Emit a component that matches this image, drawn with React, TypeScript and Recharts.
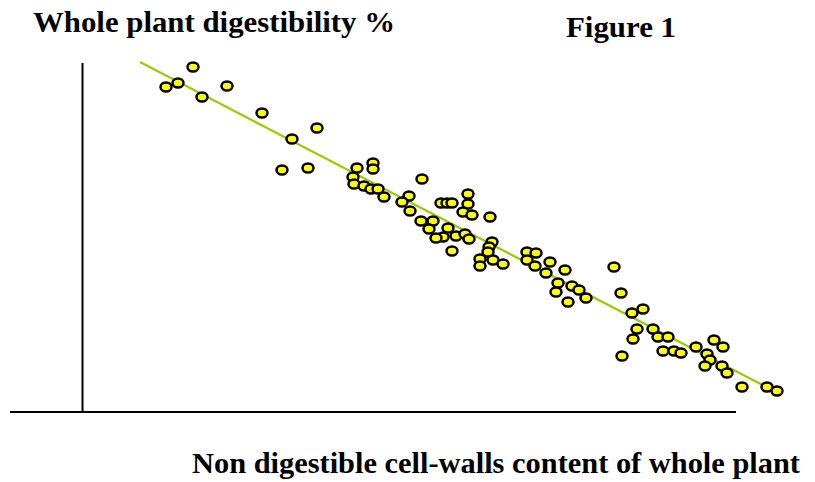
import React from "react";
import { ScatterChart, Scatter, XAxis, YAxis, ReferenceLine } from "recharts";

// cell-wall content (x) and digestibility (y) (no ticks, arbitrary units)
const cellWall = [
  16.6, 17.8, 19.3, 20.2, 22.7, 26.2, 29.2, 31.7, 28.2, 30.8,
  35.7, 37.3, 37.3, 35.3, 35.4, 36.4, 37.1, 37.8, 38.4, 42.2,
  40.9, 40.2, 41.0, 44.1, 44.7, 45.2, 46.8, 46.8, 46.3, 47.2,
  49.0, 42.1, 43.3, 42.9, 44.8, 44.3, 43.6, 45.6, 46.5, 46.9,
  45.2, 49.2, 48.9, 48.8, 49.3, 48.0, 48.0, 50.3, 52.7, 52.7,
  53.6, 53.5, 55.0, 54.6, 56.5, 55.8, 55.6, 57.2, 57.9, 58.6,
  56.8, 61.4, 62.1, 63.2, 64.3, 63.7, 63.3, 65.3, 65.8, 66.8,
  66.3, 67.4, 68.1, 69.6, 71.4, 72.3, 70.7, 71.0, 70.5, 72.2,
  72.7, 74.2, 76.7, 77.7, 62.2,
];
const digestibility = [
  39.5, 39.9, 41.5, 38.5, 39.6, 36.9, 34.3, 35.4, 31.2, 31.4,
  31.4, 31.9, 31.3, 30.5, 29.8, 29.6, 29.3, 29.3, 28.5, 30.3,
  28.6, 28.0, 27.1, 27.9, 27.9, 27.9, 28.8, 27.8, 27.0, 26.7,
  26.5, 26.1, 26.1, 25.3, 25.4, 24.5, 24.4, 24.6, 24.8, 24.3,
  23.1, 24.0, 23.5, 23.0, 22.2, 22.3, 21.6, 21.8, 23.0, 22.2,
  22.9, 21.6, 22.0, 20.9, 21.2, 19.9, 19.0, 19.6, 19.2, 18.4,
  18.0, 21.5, 18.9, 16.9, 17.3, 15.3, 14.3, 15.3, 14.5, 14.5,
  13.1, 13.1, 12.9, 13.5, 14.2, 13.5, 12.8, 12.2, 11.6, 11.6,
  10.9, 9.5, 9.5, 9.1, 12.6,
];

// regression line end points
const trendX = [14.0, 78.0];
const trendY = [42.0, 8.8];

const points = cellWall.map((x, i) => ({ x, y: digestibility[i] }));
const trend = trendX.map((x, i) => ({ x, y: trendY[i] }));

const YELLOW = "#ffff00";
const GREEN = "#99cc00";

const Dot = (props: any) => {
  const { cx, cy } = props;
  return (
    <ellipse cx={cx} cy={cy} rx={5.5} ry={4.5} fill={YELLOW} stroke="#000" strokeWidth={2.5} />
  );
};

const Nothing = () => <g />;

const font = "'Liberation Serif', 'Times New Roman', serif";

export default function App() {
  return (
    <div style={{ position: "absolute", left: 0, top: 0, width: 815, height: 482, background: "#fff" }}>
      <ScatterChart width={815} height={482} margin={{ top: 0, right: 0, bottom: 0, left: 0 }}>
        <XAxis type="number" dataKey="x" domain={[0, 81.5]} hide />
        <YAxis type="number" dataKey="y" domain={[0, 48.2]} hide />
        <ReferenceLine
          segment={[{ x: 8.25, y: 7.0 }, { x: 8.25, y: 41.9 }]}
          stroke="#000"
          strokeWidth={2}
        />
        <ReferenceLine
          segment={[{ x: 1.0, y: 7.0 }, { x: 73.6, y: 7.0 }]}
          stroke="#000"
          strokeWidth={2}
        />
        <Scatter
          data={trend}
          line={{ stroke: GREEN, strokeWidth: 2.2 }}
          shape={Nothing}
          isAnimationActive={false}
        />
        <Scatter data={points} shape={Dot} isAnimationActive={false} />
      </ScatterChart>
      <svg
        width={815}
        height={482}
        style={{ position: "absolute", left: 0, top: 0, pointerEvents: "none" }}
      >
        <text x={33} y={32} fontFamily={font} fontWeight="bold" fontSize={29} textLength={362} lengthAdjust="spacingAndGlyphs">
          Whole plant digestibility %
        </text>
        <text x={566} y={37} fontFamily={font} fontWeight="bold" fontSize={29} textLength={110} lengthAdjust="spacingAndGlyphs">
          Figure 1
        </text>
        <text x={192} y={473} fontFamily={font} fontWeight="bold" fontSize={29} textLength={608} lengthAdjust="spacingAndGlyphs">
          Non digestible cell-walls content of whole plant
        </text>
      </svg>
    </div>
  );
}
